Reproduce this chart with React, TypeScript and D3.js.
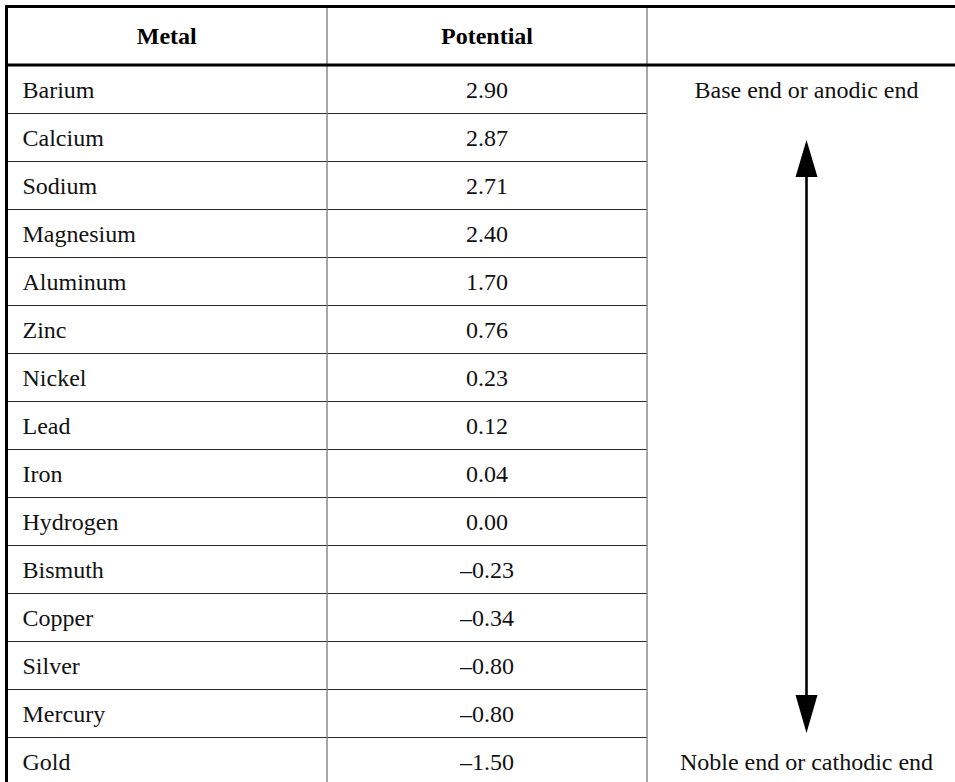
import React from "react";
import * as d3 from "d3";

const metals = ["Barium","Calcium","Sodium","Magnesium","Aluminum","Zinc","Nickel","Lead","Iron","Hydrogen","Bismuth","Copper","Silver","Mercury","Gold"];
const potentials = [2.90, 2.87, 2.71, 2.40, 1.70, 0.76, 0.23, 0.12, 0.04, 0.00, -0.23, -0.34, -0.80, -0.80, -1.50];
const headers = ["Metal", "Potential", ""];
const topLabel = "Base end or anodic end";
const bottomLabel = "Noble end or cathodic end";

const W = 955, H = 782;
const FONT = "'Liberation Serif', 'Times New Roman', serif";

const fmt = (v: number) => (v < 0 ? "\u2013" : "") + Math.abs(v).toFixed(2);

export default function App() {
  const left = 6.5, top = 6.5, headerBottom = 65, rowH = 48;
  const colEdges = [left, 327, 647, 966];
  const y = d3.scaleBand<string>().domain(metals).range([headerBottom, headerBottom + rowH * metals.length]).padding(0);
  const arrowX = (colEdges[2] + colEdges[3]) / 2;
  const col2Center = (colEdges[1] + colEdges[2]) / 2;
  const firstY = y(metals[0])!;
  const lastY = y(metals[metals.length - 1])!;
  const upTip = 140, upBase = 177, downBase = 695, downTip = 733, headHalf = 11;

  return (
    <svg width={W} height={H} style={{ position: "absolute", left: 0, top: 0, background: "#fff" }} fontFamily={FONT}>
      <rect x={0} y={0} width={W} height={H} fill="#fff" />
      {/* row lines (cols 1-2 only) */}
      {metals.slice(1).map((m) => (
        <line key={"r" + m} x1={left} x2={colEdges[2]} y1={y(m)! + 0.5} y2={y(m)! + 0.5} stroke="#2a2a2a" strokeWidth={1} shapeRendering="crispEdges" />
      ))}
      {/* column dividers */}
      {[colEdges[1], colEdges[2]].map((x, i) => (
        <line key={"c" + i} x1={x} x2={x} y1={top} y2={H + 10} stroke="#808080" strokeWidth={1.4} />
      ))}
      {/* outer borders */}
      <line x1={left} x2={left} y1={top - 1.5} y2={H + 10} stroke="#000" strokeWidth={3} />
      <line x1={left - 1.5} x2={W + 10} y1={top} y2={top} stroke="#000" strokeWidth={3} />
      <line x1={left} x2={W + 10} y1={headerBottom} y2={headerBottom} stroke="#000" strokeWidth={3} />
      {/* headers */}
      {headers.map((h, i) => (
        <text key={"h" + i} x={(colEdges[i] + colEdges[i + 1]) / 2} y={44} textAnchor="middle" fontWeight="bold" fontSize={24} fill="#000">{h}</text>
      ))}
      {/* body */}
      {metals.map((m, i) => (
        <g key={m}>
          <text x={22.5} y={y(m)! + rowH / 2 + 8.5} fontSize={24} fill="#111">{m}</text>
          <text x={col2Center} y={y(m)! + rowH / 2 + 8.5} textAnchor="middle" fontSize={24} fill="#111">{fmt(potentials[i])}</text>
        </g>
      ))}
      <text x={arrowX} y={firstY + rowH / 2 + 8.5} textAnchor="middle" fontSize={24} fill="#111">{topLabel}</text>
      <text x={arrowX} y={lastY + rowH / 2 + 8.5} textAnchor="middle" fontSize={24} fill="#111">{bottomLabel}</text>
      {/* arrow */}
      <line x1={arrowX} x2={arrowX} y1={upBase} y2={downBase} stroke="#000" strokeWidth={2.6} />
      <path d={`M${arrowX},${upTip} L${arrowX + headHalf},${upBase} L${arrowX - headHalf},${upBase} Z`} fill="#000" />
      <path d={`M${arrowX},${downTip} L${arrowX + headHalf},${downBase} L${arrowX - headHalf},${downBase} Z`} fill="#000" />
    </svg>
  );
}
